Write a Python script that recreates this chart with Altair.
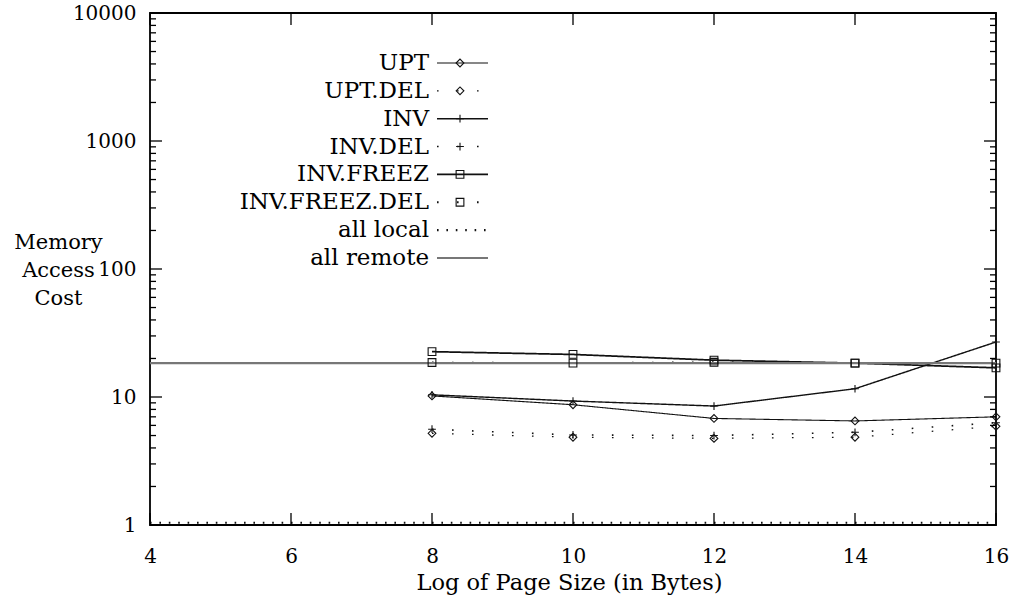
import altair as alt
import pandas as pd

# ---- data ----
x_vals = [8, 10, 12, 14, 16]
upt = [10.2, 8.7, 6.8, 6.5, 7.0]
upt_del = [5.2, 4.85, 4.75, 4.85, 5.9]
inv = [10.4, 9.3, 8.5, 11.6, 26.9]
inv_del = [5.6, 5.05, 5.0, 5.3, 6.3]
inv_freez = [22.6, 21.5, 19.4, 18.4, 16.9]
inv_freez_del = [18.6, 18.4, 18.7, 18.4, 18.4]
ref_x = [4, 16]
all_local = [1.04, 1.04]
all_remote = [18.4, 18.4]

series_names = ["UPT", "UPT.DEL", "INV", "INV.DEL", "INV.FREEZ",
                "INV.FREEZ.DEL", "all local", "all remote"]
x_ticks = [4, 6, 8, 10, 12, 14, 16]
y_major = [1, 10, 100, 1000, 10000]
y_minor = [m * 10 ** e for e in range(4) for m in range(2, 10)]

# ---- tables ----
rows = []
for name, vals, xs in [("UPT", upt, x_vals), ("UPT.DEL", upt_del, x_vals),
                       ("INV", inv, x_vals), ("INV.DEL", inv_del, x_vals),
                       ("INV.FREEZ", inv_freez, x_vals),
                       ("INV.FREEZ.DEL", inv_freez_del, x_vals),
                       ("all local", all_local, ref_x),
                       ("all remote", all_remote, ref_x)]:
    for xv, yv in zip(xs, vals):
        rows.append({"series": name, "x": xv, "y": yv})
df = pd.DataFrame(rows)
legend_df = pd.DataFrame({"series": series_names})

W, H = 846, 512
FONT = "DejaVu Serif"
INK = "#111111"

plus_path = "M-1,0L1,0M0,-1L0,1"
dash_range = [[1, 0], [1.6, 18.4], [1, 0], [1.6, 18.4], [1, 0], [1.6, 18.4], [1.6, 7.8], [1, 0]]
width_range = [1.1, 2.2, 1.1, 2.2, 1.1, 2.2, 2.2, 1.4]
color_range = [INK] * 7 + ["#777777"]
shape_range = ["diamond", "diamond", plus_path, plus_path, "square", "square",
               "circle", "circle"]
size_range = [60, 60, 150, 150, 60, 60, 10, 10]

xscale = alt.Scale(domain=[4, 16], nice=False, zero=False)
yscale = alt.Scale(type="log", domain=[1, 10000], nice=False)

dash_enc = alt.StrokeDash("series:N", scale=alt.Scale(domain=series_names, range=dash_range), legend=None)
sw_enc = alt.StrokeWidth("series:N", scale=alt.Scale(domain=series_names, range=width_range), legend=None)
color_enc = alt.Color("series:N", scale=alt.Scale(domain=series_names, range=color_range), legend=None)
shape_enc = alt.Shape("series:N", scale=alt.Scale(domain=series_names, range=shape_range), legend=None)
size_enc = alt.Size("series:N", scale=alt.Scale(domain=series_names, range=size_range), legend=None)

x_enc = alt.X("x:Q", scale=xscale,
              axis=alt.Axis(values=x_ticks, format="d", ticks=False, domain=False,
                            grid=False, labelPadding=21,
                            title="Log of Page Size (in Bytes)", titleFontSize=22.5,
                            titleBaseline="alphabetic", titleY=64, titleX=419,
                            titleAlign="center", labelFlush=False))
y_enc = alt.Y("y:Q", scale=yscale,
              axis=alt.Axis(values=y_major, format="d", ticks=False, domain=False,
                            grid=False, labelPadding=14,
                            title=["Memory", "Access", "Cost"], titleAngle=0,
                            titleAlign="center", titleBaseline="middle",
                            titleX=-92, titleY=229, titleLineHeight=28))

base = alt.Chart(df)
lines = base.mark_line(clip=True).encode(
    x=x_enc, y=y_enc, strokeDash=dash_enc, strokeWidth=sw_enc,
    color=color_enc, detail="series:N")
points = base.transform_filter(
    alt.FieldOneOfPredicate(field="series", oneOf=series_names[:6])
).mark_point(filled=False, strokeWidth=1.1, opacity=1).encode(
    x=alt.X("x:Q", scale=xscale), y=alt.Y("y:Q", scale=yscale),
    shape=shape_enc, color=color_enc, size=size_enc)

ytick_major = pd.DataFrame({"y": y_major})
ytick_minor = pd.DataFrame({"y": y_minor})
xtick_df = pd.DataFrame({"x": x_ticks})


def yticks(data, x0, x1):
    return alt.Chart(data).mark_rule(color="black", strokeWidth=1.3).encode(
        y=alt.Y("y:Q", scale=yscale), x=alt.value(x0), x2=alt.value(x1))


def xticks(y0, y1):
    return alt.Chart(xtick_df).mark_rule(color="black", strokeWidth=1.3).encode(
        x=alt.X("x:Q", scale=xscale), y=alt.value(y0), y2=alt.value(y1))


main = alt.layer(
    lines, points,
    yticks(ytick_major, 0, 12), yticks(ytick_minor, 0, 6),
    yticks(ytick_major, W - 12, W), yticks(ytick_minor, W - 6, W),
    xticks(H, H - 12), xticks(0, 12),
)

ly = alt.Y("series:N", sort=series_names,
           scale=alt.Scale(type="point", range=[50, 245], padding=0), axis=None)
leg_text = alt.Chart(legend_df).mark_text(
    align="right", baseline="middle", font=FONT, fontSize=23, color="black"
).encode(y=ly, x=alt.value(279), text="series:N")
leg_rule = alt.Chart(legend_df).mark_rule().encode(
    y=ly, x=alt.value(287), x2=alt.value(338), strokeDash=dash_enc,
    strokeWidth=sw_enc, color=color_enc)
leg_pts = alt.Chart(legend_df).transform_filter(
    alt.FieldOneOfPredicate(field="series", oneOf=series_names[:6])
).mark_point(filled=False, strokeWidth=1.1, opacity=1).encode(
    y=ly, x=alt.value(310), shape=shape_enc, color=color_enc, size=size_enc)
legend = alt.layer(leg_text, leg_rule, leg_pts)

chart = alt.layer(main, legend).resolve_scale(y="independent").properties(
    width=W, height=H, autosize="none",
    padding={"left": 150, "top": 13, "right": 14, "bottom": 77},
    background="white",
).configure_view(stroke="black", strokeWidth=1.8).configure_axis(
    labelFont=FONT, labelFontSize=20, labelColor="black",
    titleFont=FONT, titleFontSize=21, titleFontWeight="normal", titleColor="black",
)

chart.save("out.html", embed_options={"renderer": "svg", "actions": False})
